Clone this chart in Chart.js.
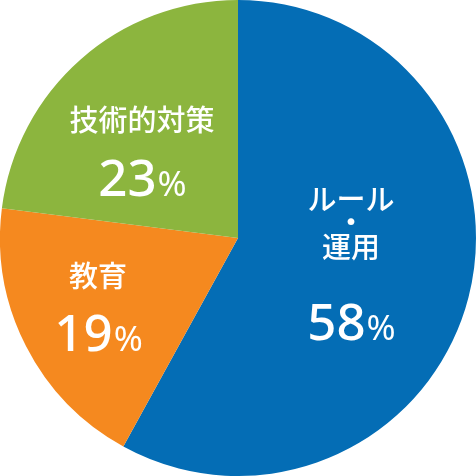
<!DOCTYPE html>
<html>
<head>
<meta charset="utf-8">
<script src="https://cdn.jsdelivr.net/npm/chart.js@4"></script>
<style>
  body { margin: 0; background: #fff; }
  #wrap { width: 476px; height: 476px; }
</style>
</head>
<body>
<div id="wrap"><canvas id="pie"></canvas></div>
<script>
// data
const labels = ['ルール・運用', '教育', '技術的対策'];
const shares = [58, 19, 23];
const colors = ['#046db5', '#f5891f', '#8cb53e'];
// label lines per slice (text shown inside the pie)
const labelLines = [['ルール', '・', '運用'], ['教育'], ['技術的対策']];

// where to put the label inside each slice: fraction of radius, line offsets
const labelPlace = [
  { f: 0.49, lines: [-68, -45, -20], pct: 55 },
  { f: 0.66, lines: [-33], pct: 24 },
  { f: 0.61, lines: [-9], pct: 49 }
];

const jpFont = '500 29px "Noto Sans CJK JP", sans-serif';
const numFont = '500 51px "Noto Sans", "Open Sans", sans-serif';
const pctFont = '400 35px "Noto Sans", "Open Sans", sans-serif';

const sliceLabels = {
  id: 'sliceLabels',
  afterDatasetsDraw(chart) {
    const ctx = chart.ctx;
    const meta = chart.getDatasetMeta(0);
    ctx.save();
    ctx.fillStyle = '#fff';
    ctx.textBaseline = 'middle';
    meta.data.forEach((arc, i) => {
      const p = arc.getProps(['x', 'y', 'startAngle', 'endAngle', 'outerRadius'], true);
      const mid = (p.startAngle + p.endAngle) / 2;
      const r = p.outerRadius * labelPlace[i].f;
      const ax = p.x + Math.cos(mid) * r;
      const ay = p.y + Math.sin(mid) * r;
      ctx.font = jpFont;
      ctx.textAlign = 'center';
      labelLines[i].forEach((t, k) => {
        ctx.fillText(t, ax, ay + labelPlace[i].lines[k]);
      });
      // number + smaller percent sign
      const num = String(shares[i]);
      ctx.font = numFont;
      const wn = ctx.measureText(num).width;
      ctx.font = pctFont;
      const wp = ctx.measureText('%').width;
      const left = ax - (wn + wp) / 2;
      const py = ay + labelPlace[i].pct;
      ctx.textAlign = 'left';
      ctx.textBaseline = 'alphabetic';
      ctx.font = numFont;
      ctx.fillText(num, left, py + 18);
      ctx.font = pctFont;
      ctx.fillText('%', left + wn + 1, py + 18);
      ctx.textBaseline = 'middle';
    });
    ctx.restore();
  }
};

new Chart(document.getElementById('pie'), {
  type: 'pie',
  data: {
    labels: labels,
    datasets: [{
      data: shares,
      backgroundColor: colors,
      borderWidth: 0
    }]
  },
  options: {
    responsive: true,
    maintainAspectRatio: false,
    animation: false,
    layout: { padding: 0 },
    plugins: {
      legend: { display: false },
      tooltip: { enabled: false }
    }
  },
  plugins: [sliceLabels]
});
</script>
</body>
</html>
